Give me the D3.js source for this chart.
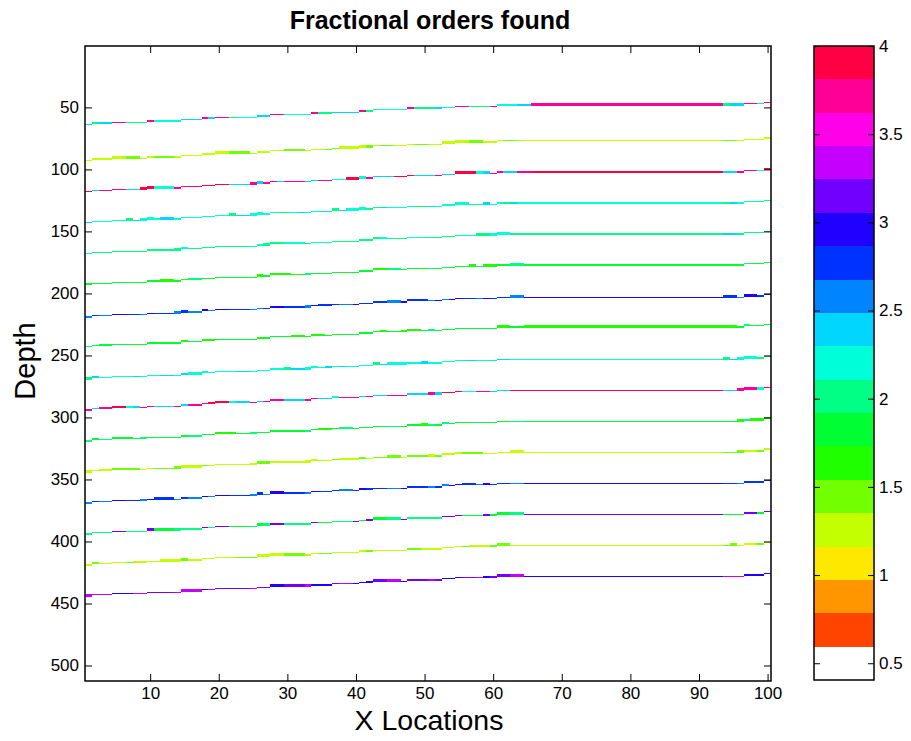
<!DOCTYPE html>
<html>
<head>
<meta charset="utf-8">
<script src="https://cdn.jsdelivr.net/npm/d3@7"></script>
<style>
  html, body { margin: 0; padding: 0; background: #fff; }
  svg { display: block; font-family: "Liberation Sans", Arial, Helvetica, sans-serif; }
</style>
</head>
<body>
<svg id="chart" width="911" height="741"></svg>
<script>
// ---------------- DATA ----------------
const chartTitle = "Fractional orders found";
const xLabel = "X Locations";
const yLabel = "Depth";
const xTickValues = [10, 20, 30, 40, 50, 60, 70, 80, 90, 100];
const yTickValues = [50, 100, 150, 200, 250, 300, 350, 400, 450, 500];
const colorTickValues = [0.5, 1, 1.5, 2, 2.5, 3, 3.5, 4];
const xDomain = [0.5, 100.5];       // 100 x locations (image columns)
const depthDomain = [0.5, 512.5];   // 512 depth samples (image rows)
const colorDomain = [0.405, 4];     // colour limits of the colour bar

// colour map: white for the lowest bin, then hsv-like ramp
const palette = ["#ffffff", "#ff4400", "#ff9600", "#ffe800", "#c4ff00", "#72ff00",
  "#20ff00", "#00ff32", "#00ff84", "#00ffd9", "#00d6ff", "#0084ff", "#0032ff",
  "#2000ff", "#7200ff", "#c500ff", "#ff00e8", "#ff0096", "#ff0044"];

// depth (sample) of each reflector at x = 1
const reflectorStartDepth = [64, 93, 118, 143, 168, 193, 219, 243, 269, 294, 319, 344, 369, 394, 419, 444];
// columns at which every reflector rises by one depth sample
const depthStepColumns = [2, 5, 10, 15, 18, 20, 26, 28, 34, 37, 41, 43, 48, 53, 55, 61, 97, 100];

// fractional order found along each reflector: [start column, order, rows picked]
const reflector1 = [[1,2.4,1],[2,2.0,2],[3,2.4,2],[5,3.7,1],[7,2.0,1],[10,3.7,1],[11,2.2,1],[15,2.4,1],[18,3.7,2],[19,2.4,2],[20,3.7,1],[22,2.0,1],[23,2.2,1],[26,2.4,1],[28,3.7,1],[30,2.2,1],[34,3.7,2],[35,2.0,2],[37,2.4,1],[41,3.7,1],[42,2.0,1],[43,2.2,1],[48,3.7,2],[49,2.0,2],[52,2.4,2],[53,2.2,1],[55,3.7,1],[57,2.0,1],[60,3.7,1],[61,2.2,1],[64,2.4,1],[66,3.7,2],[94,2.0,2],[95,2.4,2],[97,3.7,1],[99,2.0,1],[100,3.7,1]];
const reflector2 = [[1,1.25,1],[2,1.25,2],[7,1.45,2],[9,1.25,1],[11,1.45,1],[14,1.25,1],[18,1.25,2],[22,1.45,2],[25,1.25,1],[30,1.45,2],[33,1.25,1],[36,1.45,1],[38,1.25,2],[42,1.45,2],[43,1.25,1],[44,1.45,1],[46,1.25,1],[49,1.45,1],[51,1.25,1],[53,1.25,2],[57,1.45,2],[59,1.25,1],[62,1.45,1],[64,1.25,1],[94,1.45,1],[96,1.25,1],[100,1.25,2]];
const reflector3 = [[1,3.9,1],[2,2.4,1],[3,3.7,1],[7,2.4,1],[9,3.9,2],[11,2.2,2],[14,3.7,1],[18,3.9,1],[22,2.4,1],[25,3.7,2],[26,2.4,2],[27,3.7,1],[29,2.4,1],[30,3.7,1],[33,2.4,1],[35,3.7,1],[37,2.2,1],[39,3.9,2],[41,2.2,2],[42,3.7,1],[43,2.4,1],[46,3.9,1],[49,2.4,1],[52,3.7,1],[53,2.4,1],[55,3.9,2],[58,2.2,2],[59,2.4,2],[60,3.7,1],[62,2.4,1],[64,3.7,1],[66,3.9,1],[94,2.4,1],[96,3.7,1],[99,2.2,1],[100,3.9,2]];
const reflector4 = [[1,2.4,1],[2,2.2,1],[7,2.0,2],[8,2.4,1],[9,2.2,2],[11,2.2,1],[12,2.4,2],[14,2.2,1],[22,2.0,2],[23,2.4,1],[25,2.2,2],[27,2.2,1],[29,2.0,1],[31,2.2,1],[32,2.4,1],[33,2.2,1],[35,2.0,1],[36,2.4,1],[37,2.0,2],[38,2.4,1],[39,2.2,2],[42,2.0,1],[44,2.4,1],[45,2.2,1],[49,2.0,1],[51,2.4,1],[52,2.2,1],[53,2.2,2],[57,2.0,1],[59,2.4,2],[60,2.2,1],[62,2.0,1],[63,2.4,1],[64,2.2,1],[94,2.0,1],[95,2.4,1],[96,2.2,1],[99,2.0,1]];
const reflector5 = [[1,2.2,1],[2,2.0,1],[14,2.0,2],[15,2.2,2],[16,2.0,1],[25,2.2,1],[27,2.0,2],[30,2.2,2],[33,2.0,1],[34,2.2,1],[37,2.0,1],[43,2.0,2],[44,2.2,2],[45,2.0,1],[48,2.2,1],[51,2.0,1],[56,2.2,1],[58,2.0,2],[60,2.2,2],[63,2.0,1],[94,2.4,1],[96,2.0,1]];
const reflector6 = [[1,1.8,2],[2,1.6,1],[3,1.8,1],[8,1.6,1],[9,1.8,1],[12,1.6,2],[14,1.8,1],[15,1.6,1],[16,2.0,2],[18,1.8,1],[26,1.6,2],[27,1.8,1],[28,1.6,2],[31,1.6,1],[33,2.0,2],[34,1.8,1],[38,1.6,1],[39,1.8,1],[43,1.6,2],[45,2.0,2],[47,1.8,1],[50,1.6,1],[51,2.0,1],[52,1.8,1],[53,2.0,1],[54,1.8,1],[57,1.6,2],[58,2.0,1],[59,1.6,2],[61,1.8,1],[63,2.0,2],[65,1.8,1],[97,2.0,1],[98,1.8,1]];
const reflector7 = [[1,2.6,1],[2,2.75,1],[3,2.6,1],[5,2.95,1],[7,2.75,1],[9,2.6,1],[10,2.95,1],[11,2.75,1],[14,2.6,2],[15,2.75,2],[16,2.6,1],[18,2.95,2],[19,2.6,1],[20,2.95,1],[22,2.75,1],[25,2.6,1],[27,2.75,1],[28,2.95,1],[30,2.75,1],[33,2.6,2],[34,2.95,1],[35,2.75,2],[37,2.75,1],[38,2.6,1],[40,2.95,1],[41,2.75,1],[45,2.6,2],[47,2.95,1],[48,2.75,2],[51,2.6,1],[52,2.95,1],[53,2.6,1],[54,2.95,1],[56,2.75,1],[58,2.6,1],[59,2.95,1],[60,2.75,1],[63,2.6,2],[65,2.95,1],[94,2.75,2],[96,2.6,1],[97,2.95,2],[99,2.75,1]];
const reflector8 = [[1,2.0,1],[2,1.8,1],[3,1.8,2],[5,1.8,1],[8,1.6,1],[9,1.8,1],[15,1.6,2],[16,1.8,1],[18,1.6,2],[20,1.8,1],[26,1.6,1],[27,1.8,1],[31,1.6,2],[33,1.8,1],[34,1.6,2],[36,1.8,1],[37,1.6,1],[38,1.8,1],[44,1.6,2],[45,1.8,1],[47,1.6,2],[50,1.8,1],[51,2.0,2],[52,1.8,1],[61,1.6,2],[63,1.8,1],[65,1.6,2],[96,1.8,1],[97,2.0,2],[98,1.8,1]];
const reflector9 = [[1,2.0,2],[2,2.4,2],[3,2.2,1],[8,2.4,1],[9,2.2,1],[12,2.4,1],[14,2.2,1],[15,2.4,1],[16,2.2,2],[19,2.2,1],[23,2.4,1],[25,2.2,1],[30,2.0,2],[31,2.4,1],[33,2.2,2],[35,2.2,1],[36,2.4,2],[37,2.2,1],[38,2.4,1],[39,2.2,1],[43,2.0,2],[44,2.4,1],[45,2.2,2],[48,2.2,1],[50,2.4,2],[51,2.2,1],[56,2.0,1],[57,2.4,1],[58,2.2,1],[60,2.0,1],[61,2.4,1],[63,2.2,1],[94,2.0,2],[95,2.4,1],[96,2.2,2],[99,2.0,1]];
const reflector10 = [[1,3.7,1],[2,2.4,1],[3,3.7,2],[5,3.9,2],[7,2.2,2],[8,2.4,2],[9,3.7,1],[11,2.4,1],[14,3.7,1],[15,2.4,1],[16,3.7,1],[19,3.9,2],[22,2.2,2],[23,2.4,2],[25,3.7,1],[26,2.4,1],[27,3.7,1],[30,2.4,1],[33,3.7,1],[35,2.4,1],[37,2.2,2],[38,3.7,1],[41,2.4,1],[42,3.7,1],[43,2.4,1],[45,3.7,1],[48,2.4,1],[51,3.7,2],[52,2.4,2],[53,3.9,1],[56,2.2,1],[58,3.7,1],[60,2.4,1],[63,3.9,1],[94,2.4,1],[96,3.7,2],[99,2.2,2],[100,3.9,1]];
const reflector11 = [[1,2.0,1],[2,1.8,2],[3,2.0,1],[5,1.8,2],[8,1.8,1],[9,2.0,2],[10,1.8,1],[16,2.0,1],[18,1.8,1],[20,1.6,2],[23,1.8,1],[25,2.0,2],[26,1.8,1],[33,2.0,1],[34,1.8,1],[35,1.6,2],[37,1.8,1],[38,2.0,2],[40,1.8,1],[45,2.0,1],[47,1.8,1],[50,1.6,2],[51,2.0,1],[52,1.8,1],[53,2.0,2],[54,1.8,1],[58,2.0,1],[59,1.8,1],[63,2.0,1],[65,1.8,1],[96,1.6,2],[97,2.0,1],[98,1.6,2]];
const reflector12 = [[1,1.25,2],[2,1.25,1],[3,1.25,2],[5,1.45,2],[9,1.25,1],[11,1.45,1],[14,1.45,2],[15,1.25,2],[18,1.45,1],[19,1.25,1],[25,1.25,2],[26,1.45,2],[28,1.25,1],[33,1.25,2],[35,1.25,1],[37,1.45,1],[38,1.25,2],[41,1.45,2],[42,1.25,1],[43,1.45,1],[45,1.45,2],[47,1.25,1],[48,1.45,1],[51,1.25,2],[52,1.45,1],[53,1.25,2],[56,1.45,2],[59,1.25,1],[63,1.25,2],[65,1.25,1],[94,1.45,1],[96,1.45,2],[97,1.25,1],[99,1.45,1],[100,1.25,2]];
const reflector13 = [[1,2.6,1],[2,2.75,1],[3,2.6,1],[5,2.95,1],[7,2.75,1],[9,2.6,2],[10,2.95,1],[11,2.75,2],[14,2.6,1],[15,2.75,1],[16,2.6,1],[18,2.95,1],[19,2.6,1],[20,2.95,1],[22,2.75,1],[25,2.6,2],[26,2.75,2],[27,2.6,1],[28,2.95,2],[30,2.75,1],[33,2.6,1],[34,2.95,1],[35,2.75,1],[38,2.6,2],[40,2.75,1],[41,2.95,2],[42,2.75,2],[43,2.75,1],[45,2.6,1],[47,2.95,1],[48,2.75,1],[51,2.6,1],[52,2.75,1],[53,2.6,2],[54,2.95,1],[56,2.75,2],[58,2.6,1],[59,2.95,2],[60,2.75,1],[63,2.6,1],[65,2.95,1],[94,2.75,1],[96,2.6,1],[97,2.75,1]];
const reflector14 = [[1,2.0,1],[5,3.15,1],[7,2.0,1],[10,3.15,2],[11,1.8,2],[14,2.0,2],[15,2.0,1],[18,3.15,1],[19,2.0,1],[20,3.15,1],[22,1.8,1],[25,2.0,1],[26,1.8,2],[27,2.0,2],[28,3.15,1],[30,2.0,1],[34,3.15,1],[35,1.8,1],[37,2.0,1],[40,3.15,1],[41,1.8,1],[42,3.15,2],[43,1.8,2],[45,2.0,2],[47,3.15,1],[48,2.0,1],[53,3.15,1],[56,1.8,1],[59,3.15,2],[60,1.8,2],[63,2.0,2],[65,3.15,1],[94,1.8,1],[97,3.15,1],[99,1.8,1],[100,3.15,1]];
const reflector15 = [[1,1.25,1],[2,1.45,2],[3,1.25,1],[7,1.45,1],[8,1.25,2],[10,1.25,1],[12,1.25,2],[15,1.45,2],[16,1.25,1],[23,1.45,1],[26,1.25,2],[30,1.45,2],[33,1.25,1],[35,1.45,1],[37,1.25,1],[41,1.25,2],[42,1.45,2],[43,1.25,1],[48,1.45,1],[50,1.25,1],[56,1.45,1],[57,1.25,2],[60,1.45,2],[63,1.25,1],[94,1.45,1],[95,1.45,2],[96,1.25,1],[99,1.45,1],[100,1.25,1]];
const reflector16 = [[1,3.35,2],[2,3.35,1],[5,2.95,1],[8,3.35,1],[10,3.15,1],[14,3.35,1],[15,3.35,2],[18,2.95,1],[19,3.35,1],[20,3.15,1],[25,3.35,1],[26,3.15,1],[28,2.95,2],[30,3.15,2],[33,3.35,2],[34,2.95,1],[37,3.15,1],[38,3.35,1],[40,2.95,1],[42,2.95,2],[43,3.15,2],[45,3.35,2],[47,2.95,1],[48,3.15,1],[51,3.35,1],[52,3.15,1],[53,2.95,1],[56,3.15,1],[58,3.35,1],[59,2.95,2],[60,3.15,2],[63,3.35,2],[65,2.95,1],[94,3.35,1],[97,2.95,1]];
const reflectors = [reflector1, reflector2, reflector3, reflector4, reflector5, reflector6, reflector7, reflector8,
  reflector9, reflector10, reflector11, reflector12, reflector13, reflector14, reflector15, reflector16];

// ---------------- DRAWING ----------------
const svg = d3.select("#chart");
const plot = { left: 85, right: 771, top: 46, bottom: 681 };
const cbar = { left: 814, right: 874, top: 46, bottom: 680 };

const x = d3.scaleLinear().domain(xDomain).range([plot.left, plot.right]);
const y = d3.scaleLinear().domain(depthDomain).range([plot.top, plot.bottom]);
const color = d3.scaleQuantize().domain(colorDomain).range(palette);
const cScale = d3.scaleLinear().domain(colorDomain).range([cbar.bottom, cbar.top]);

// expand run-length reflector data into image cells
const columns = d3.range(1, 101);
const cells = [];
reflectors.forEach((segs, i) => {
  columns.forEach(c => {
    const seg = segs.filter(s => s[0] <= c).pop();
    const depth = reflectorStartDepth[i] - depthStepColumns.filter(s => s <= c).length;
    cells.push({ col: c, depth, value: seg[1], rows: seg[2] });
  });
});

svg.append("rect").attr("x", plot.left).attr("y", plot.top)
  .attr("width", plot.right - plot.left).attr("height", plot.bottom - plot.top)
  .attr("fill", "#ffffff");

svg.append("g").attr("shape-rendering", "crispEdges")
  .selectAll("rect").data(cells).join("rect")
  .attr("x", d => x(d.col - 0.5))
  .attr("width", d => x(d.col + 0.5) - x(d.col - 0.5))
  .attr("y", d => y(d.depth - 0.5 - (d.rows - 1)))
  .attr("height", d => y(d.depth + 0.5) - y(d.depth - 0.5 - (d.rows - 1)))
  .attr("fill", d => color(d.value));

const fontTick = 17;
const tickLen = 7;

// bottom axis
const gx = svg.append("g").attr("transform", `translate(0,${plot.bottom})`)
  .call(d3.axisBottom(x).tickValues(xTickValues).tickSizeInner(-tickLen).tickSizeOuter(0).tickPadding(6));
// top axis (ticks only)
const gxt = svg.append("g").attr("transform", `translate(0,${plot.top})`)
  .call(d3.axisTop(x).tickValues(xTickValues).tickSizeInner(-tickLen).tickSizeOuter(0).tickFormat(""));
// left axis
const gy = svg.append("g").attr("transform", `translate(${plot.left},0)`)
  .call(d3.axisLeft(y).tickValues(yTickValues).tickSizeInner(-tickLen).tickSizeOuter(0).tickPadding(6));
// right axis (ticks only)
const gyr = svg.append("g").attr("transform", `translate(${plot.right},0)`)
  .call(d3.axisRight(y).tickValues(yTickValues).tickSizeInner(-tickLen).tickSizeOuter(0).tickFormat(""));

[gx, gxt, gy, gyr].forEach(g => {
  g.select(".domain").remove();
  g.selectAll(".tick line").attr("stroke", "#000").attr("stroke-width", 1);
  g.selectAll(".tick text").attr("fill", "#000").attr("font-size", fontTick)
    .attr("font-family", "'Liberation Sans', Arial, sans-serif");
});

svg.append("rect").attr("x", plot.left).attr("y", plot.top)
  .attr("width", plot.right - plot.left).attr("height", plot.bottom - plot.top)
  .attr("fill", "none").attr("stroke", "#000").attr("stroke-width", 1.5);

// colour bar
const nBins = palette.length;
const binW = (colorDomain[1] - colorDomain[0]) / nBins;
svg.append("g").attr("shape-rendering", "crispEdges")
  .selectAll("rect").data(palette).join("rect")
  .attr("x", cbar.left).attr("width", cbar.right - cbar.left)
  .attr("y", (d, i) => cScale(colorDomain[0] + (i + 1) * binW))
  .attr("height", (d, i) => cScale(colorDomain[0] + i * binW) - cScale(colorDomain[0] + (i + 1) * binW))
  .attr("fill", d => d);

const gc = svg.append("g").attr("transform", `translate(${cbar.right},0)`)
  .call(d3.axisRight(cScale).tickValues(colorTickValues).tickSizeInner(-6).tickSizeOuter(0)
    .tickPadding(5).tickFormat(d3.format("")));
gc.select(".domain").remove();
gc.selectAll(".tick line").attr("stroke", "#000");
gc.selectAll(".tick text").attr("fill", "#000").attr("font-size", fontTick)
  .attr("font-family", "'Liberation Sans', Arial, sans-serif");
const gcl = svg.append("g").attr("transform", `translate(${cbar.left},0)`)
  .call(d3.axisLeft(cScale).tickValues(colorTickValues).tickSizeInner(-6).tickSizeOuter(0).tickFormat(""));
gcl.select(".domain").remove();
gcl.selectAll(".tick line").attr("stroke", "#000");

svg.append("rect").attr("x", cbar.left).attr("y", cbar.top)
  .attr("width", cbar.right - cbar.left).attr("height", cbar.bottom - cbar.top)
  .attr("fill", "none").attr("stroke", "#000").attr("stroke-width", 1.5);

// titles
svg.append("text").attr("x", 430).attr("y", 29)
  .attr("text-anchor", "middle").attr("font-size", 25).attr("font-weight", "bold")
  .attr("fill", "#000").text(chartTitle);
svg.append("text").attr("x", 429).attr("y", 730)
  .attr("text-anchor", "middle").attr("font-size", 28.5).attr("fill", "#000").text(xLabel);
svg.append("text").attr("transform", `translate(35,${361}) rotate(-90)`)
  .attr("text-anchor", "middle").attr("font-size", 29).attr("fill", "#000").text(yLabel);
</script>
</body>
</html>
